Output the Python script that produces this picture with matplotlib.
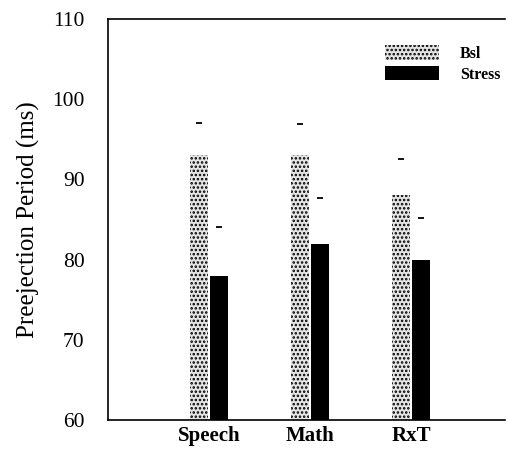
import matplotlib
matplotlib.use("Agg")
import matplotlib.pyplot as plt
import numpy as np

categories = ["Speech", "Math", "RxT"]
bsl = [93, 93, 88]
stress = [78, 82, 80]
bsl_err_top = [97.0, 96.9, 92.5]
stress_err_top = [84.1, 87.7, 85.2]

plt.rcParams['font.family'] = ['Liberation Serif', 'DejaVu Serif']
plt.rcParams['hatch.color'] = 'black'
plt.rcParams['hatch.linewidth'] = 1.2

fig = plt.figure(figsize=(5.09, 4.5), dpi=100)
ax = fig.add_axes([108/509, 30/450, 397/509, 401/450])

x = np.arange(1, len(categories) + 1)
w = 0.18
off = 0.1
ax.bar(x - off, [v - 60 for v in bsl], bottom=60, width=w, facecolor='#e4e4e4',
       edgecolor='black', linewidth=0, hatch='....', label='Bsl')
ax.bar(x + off, [v - 60 for v in stress], bottom=60, width=w, facecolor='black',
       edgecolor='black', linewidth=0, label='Stress')

# error bar caps (the vertical whiskers are essentially invisible in the original)
for xs, tops in ((x - off, bsl_err_top), (x + off, stress_err_top)):
    ax.plot(xs, tops, linestyle='none', marker='_', markersize=5, color='black', mew=1.3)

ax.set_xlim(0, 3.93)
ax.set_ylim(60, 110)
ax.set_yticks([60, 70, 80, 90, 100, 110])
ax.set_xticks(x)
ax.set_xticklabels(categories, fontweight='bold', fontsize=15)
ax.tick_params(axis='y', length=0, pad=17, labelsize=15.5)
ax.tick_params(axis='x', length=0, pad=4)
ax.spines['right'].set_visible(False)
for s in ('left', 'bottom', 'top'):
    ax.spines[s].set_linewidth(1.2)
ax.set_ylabel("Preejection Period (ms)", fontsize=18, labelpad=9)

leg = ax.legend(loc='upper right', bbox_to_anchor=(1.025, 0.97), frameon=False,
                prop={'weight': 'bold', 'size': 11.5}, handlelength=3.4,
                handleheight=1.0, labelspacing=0.25, handletextpad=1.3)

fig.savefig("out.png", dpi=100)
